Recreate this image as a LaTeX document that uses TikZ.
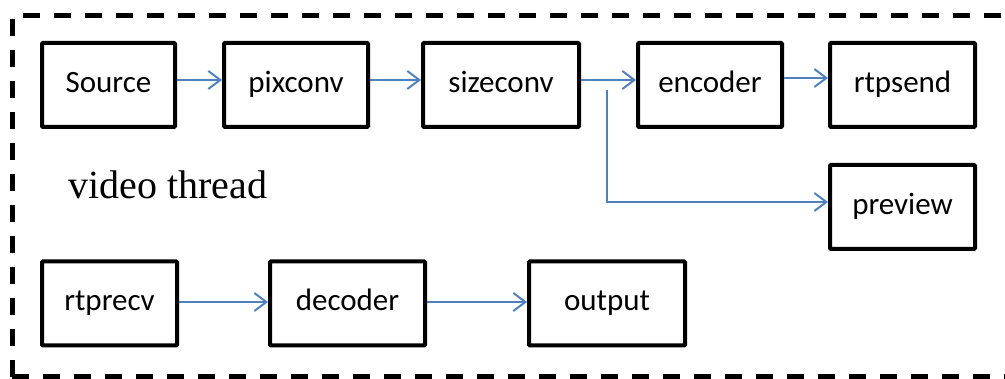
\documentclass[tikz,border=0pt]{standalone}
\usepackage{fontspec}
\setmainfont{Carlito}
\newfontfamily\labelserif{Liberation Serif}
\usetikzlibrary{arrows.meta}
\definecolor{flowblue}{HTML}{4F81BD}
\begin{document}
\begin{tikzpicture}[x=1pt,y=-1pt,
  stagebox/.style={draw=black,line width=4pt,rounded corners=1pt,minimum height=84pt,
    inner sep=0pt,text height=22pt,text depth=7pt,
    font=\fontsize{31}{31}\selectfont,anchor=center},
  flow/.style={draw=flowblue,line width=2pt,-{Straight Barb[length=12pt,width=18pt,line width=2pt]}},
  frame/.style={draw=black,line width=5pt,dash pattern=on 17pt off 14pt}]
\useasboundingbox (0,0) rectangle (1005,379);
\begin{scope}
  \clip (0,0) rectangle (1005,379);
  \draw[frame] (12,377) -- (12,16) -- (1040,16);
  \draw[frame] (12,377) -- (1040,377);
\end{scope}
% upper pipeline
\node[stagebox,minimum width=133pt] (src)  at (108.5,85) {Source};
\node[stagebox,minimum width=144pt] (pix)  at (296,85)   {pixconv};
\node[stagebox,minimum width=156pt] (size) at (501,85)   {sizeconv};
\node[stagebox,minimum width=144pt] (enc)  at (710,85)   {encoder};
\node[stagebox,minimum width=145pt] (send) at (902.5,85) {rtpsend};
\node[stagebox,minimum width=145pt] (prev) at (902.5,207) {preview};
% lower pipeline
\node[stagebox,minimum width=135pt] (recv) at (109.5,303.5) {rtprecv};
\node[stagebox,minimum width=155pt] (dec)  at (347.5,303.5) {decoder};
\node[stagebox,minimum width=156pt] (out)  at (607,303.5)   {output};
% caption
\node[anchor=base west,inner sep=0pt,font=\labelserif\fontsize{40}{40}\selectfont] (cap) at (68,199) {video thread};
% connectors
\coordinate (split) at (607,90);
\draw[flow] ([yshift=5pt]src.east) -- ([yshift=5pt]pix.west);
\draw[flow] ([yshift=5pt]pix.east) -- ([yshift=5pt]size.west);
\draw[flow] ([yshift=5pt]size.east) -- ([yshift=5pt]enc.west);
\draw[flow] ([yshift=7pt]enc.east) -- ([yshift=7pt]send.west);
\draw[flow] (split) |- ([yshift=5pt]prev.west);
\draw[flow] ([yshift=1.5pt]recv.east) -- ([yshift=1.5pt]dec.west);
\draw[flow] ([yshift=1.5pt]dec.east) -- ([yshift=1.5pt]out.west);
\end{tikzpicture}
\end{document}
